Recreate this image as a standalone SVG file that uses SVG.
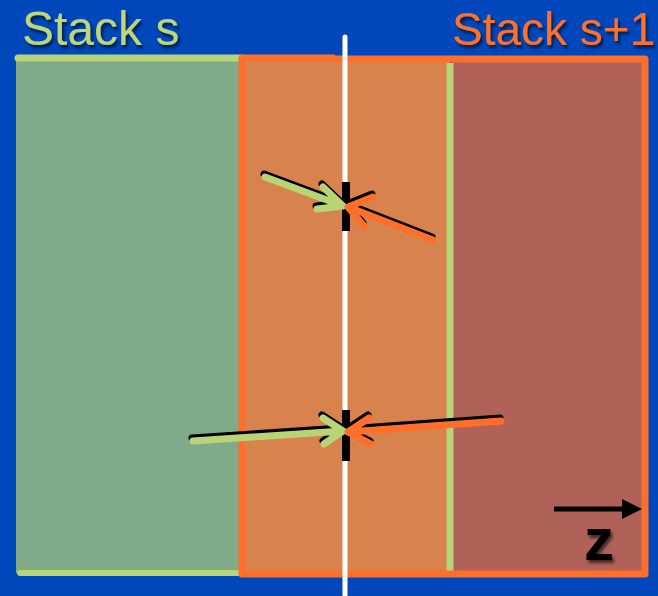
<svg xmlns="http://www.w3.org/2000/svg" width="658" height="596" viewBox="0 0 658 596">
<defs>
<style>
.lbl{font-family:"Liberation Sans",Arial,sans-serif;font-size:48px}
.sh{stroke:#000;stroke-width:7;fill:none;stroke-linecap:round;stroke-linejoin:round}
.ga{stroke:#B9D477;stroke-width:7;fill:none;stroke-linecap:round;stroke-linejoin:round}
.oa{stroke:#FF6F2C;stroke-width:7;fill:none;stroke-linecap:round;stroke-linejoin:round}
.tick{stroke:#000;stroke-width:8}
</style>
<filter id="ds" x="-10%" y="-10%" width="130%" height="140%"><feDropShadow dx="2" dy="3" stdDeviation="1.5" flood-color="#000" flood-opacity="0.6"/></filter>
</defs>
<rect width="658" height="596" fill="#0047BB"/>
<g id="stack-s">
<rect x="16" y="58" width="226" height="515" fill="#80AA8A"/>
<line x1="18" y1="58" x2="242" y2="58" stroke="#B9D477" stroke-width="7" stroke-linecap="round"/>
<line x1="20" y1="573" x2="242" y2="573" stroke="#B9D477" stroke-width="6" stroke-linecap="round"/>
<text class="lbl" x="22" y="45" fill="#BDD67A" filter="url(#ds)">Stack s</text>
</g>
<g id="overlap">
<rect x="242" y="58" width="208" height="516" fill="#D8824E"/>
</g>
<g id="stack-s1">
<rect x="452" y="60" width="193" height="514" fill="#B06258"/>
<line x1="450" y1="63" x2="450" y2="571" stroke="#B9D477" stroke-width="7"/>
<line x1="242" y1="58" x2="335" y2="58" stroke="#FF6F2C" stroke-width="7"/>
<path d="M335,59 L645,59 L645,574 L242,574 L242,58" fill="none" stroke="#FF6F2C" stroke-width="7" stroke-linejoin="round" stroke-linecap="round"/>
<text class="lbl" x="452" y="45" fill="#FF6F2C" filter="url(#ds)" style="font-size:46px">Stack s+1</text>
</g>
<g id="boundary">
<line x1="345" y1="37" x2="345" y2="596" stroke="#fff" stroke-width="5" stroke-linecap="round"/>
<line class="tick" x1="346" y1="182" x2="346" y2="231"/>
<line class="tick" x1="346" y1="410" x2="346" y2="461"/>
</g>
<g id="connectors">
<g transform="translate(-1,-3)">
<path class="sh" d="M265,177 L343,206 M323,187 L343,206 L317,209"/>
<path class="sh" d="M433,240 L348,207 M373,197 L348,207 L364,226"/>
<path class="sh" d="M193,441 L343,431 M323,418 L343,431 L324,444"/>
<path class="sh" d="M501,421 L348,432 M369,418 L348,432 L371,444"/>
</g>
<path class="ga" d="M265,177 L343,206 M323,187 L343,206 L317,209"/>
<path class="oa" d="M433,240 L348,207 M373,197 L348,207 L364,226"/>
<path class="ga" d="M193,441 L343,431 M323,418 L343,431 L324,444"/>
<path class="oa" d="M501,421 L348,432 M369,418 L348,432 L371,444"/>
</g>
<g id="z-axis">
<line x1="554" y1="509" x2="626" y2="509" stroke="#000" stroke-width="5"/>
<path d="M622,499 L642,509 L622,519 Z" fill="#000"/>
<text x="584" y="560" font-family="Liberation Sans,Arial,sans-serif" font-size="60" font-weight="bold" fill="#000" filter="url(#ds)">z</text>
</g>
</svg>
